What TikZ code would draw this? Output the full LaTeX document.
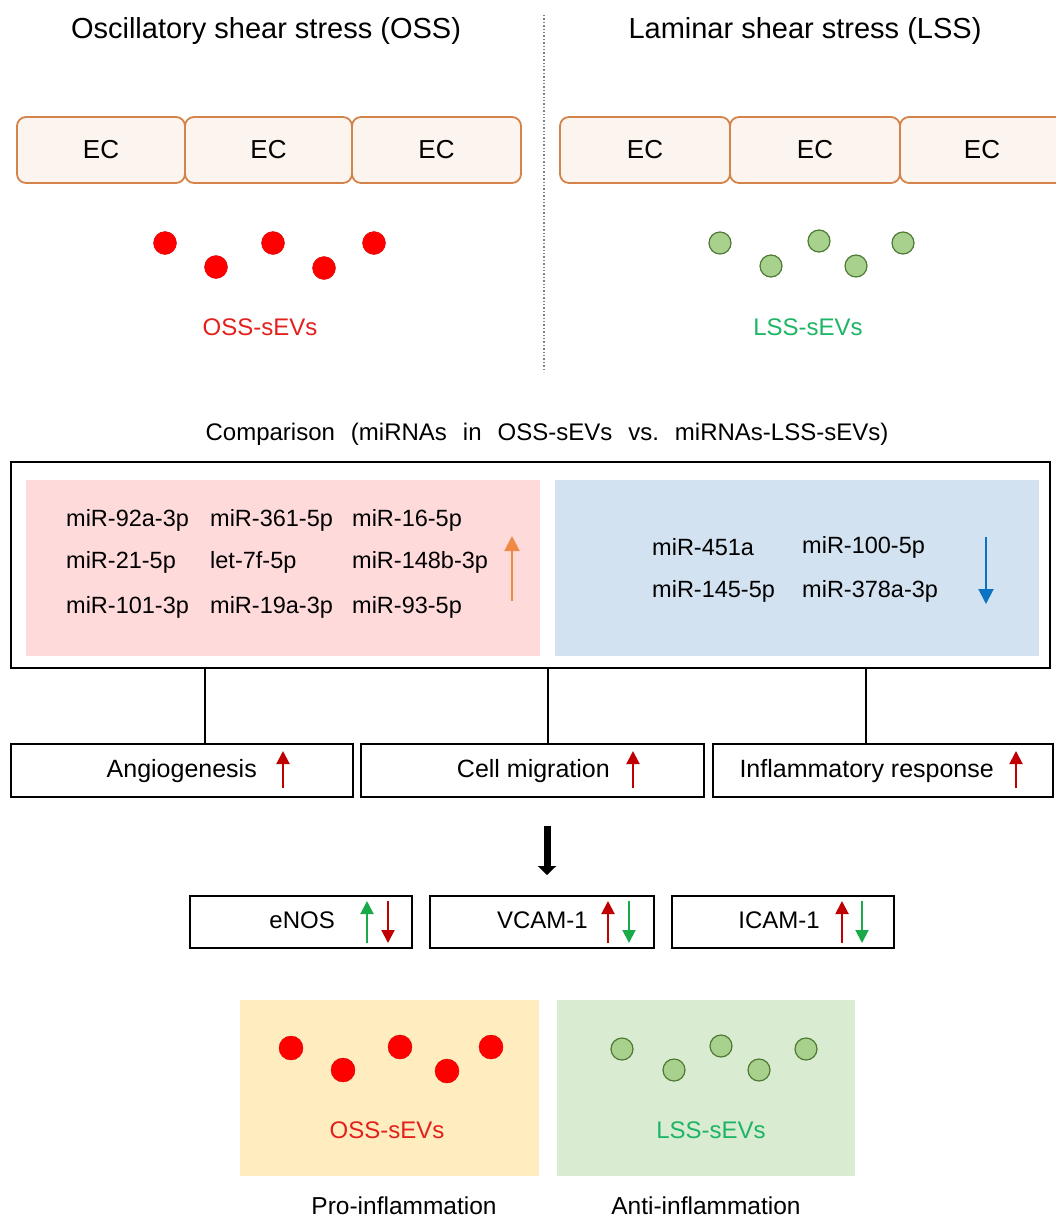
\documentclass[tikz,border=0pt]{standalone}
\usepackage{fontspec}
\setmainfont{Liberation Sans}
\usetikzlibrary{arrows.meta}

\definecolor{ecfill}{HTML}{FCF4EE}
\definecolor{ecline}{HTML}{D4834A}
\definecolor{ossred}{HTML}{FF0000}
\definecolor{osstext}{HTML}{E3201B}
\definecolor{lssfill}{HTML}{A9D18E}
\definecolor{lssline}{HTML}{4E7A35}
\definecolor{lsstext}{HTML}{1DB565}
\definecolor{pinkbg}{HTML}{FFDADA}
\definecolor{bluebg}{HTML}{D2E2F1}
\definecolor{uporange}{HTML}{EE8A44}
\definecolor{downblue}{HTML}{0B72C4}
\definecolor{darkred}{HTML}{C00000}
\definecolor{upgreen}{HTML}{1AAA4A}
\definecolor{yellowbg}{HTML}{FFEDC0}
\definecolor{greenbg}{HTML}{D9EBD0}

\newcommand\fsz[1]{\fontsize{#1}{#1}\selectfont}

\begin{document}
\begin{tikzpicture}[x=1pt,y=-1pt,
  ecbox/.style={draw=ecline, fill=ecfill, line width=1.8pt, rounded corners=9pt,
    minimum height=66pt, inner sep=0pt, font=\fsz{26}},
  ossdot/.style={circle, fill=ossred, draw=ossred!85!black, line width=0.4pt,
    minimum size=23pt, inner sep=0pt},
  lssdot/.style={circle, fill=lssfill, draw=lssline, line width=1.2pt,
    minimum size=22pt, inner sep=0pt},
  plainbox/.style={draw=black, line width=1.3pt, inner sep=0pt},
  txt/.style={inner sep=0pt, font=\fsz{24}},
  mir/.style={inner sep=0pt, anchor=west, font=\fsz{23.5}},
  tip/.style={-{Triangle[length=13pt,width=13pt]}, line width=2pt},
]
\useasboundingbox (0,0) rectangle (1056,1218);

% ---- headings and divider ----
\node[txt, font=\fsz{29}] (titleO) at (266,31) {Oscillatory shear stress (OSS)};
\node[txt, font=\fsz{29}] (titleL) at (805,31) {Laminar shear stress (LSS)};
\coordinate (divtop) at (544,15);
\coordinate (divbot) at (544,372);
\draw[gray, dotted, line width=1.4pt] (divtop) -- (divbot);

% ---- endothelial cell layers ----
\node[ecbox, minimum width=168pt] (ec1) at (101,150) {EC};
\node[ecbox, minimum width=167pt] (ec2) at (268.5,150) {EC};
\node[ecbox, minimum width=169pt] (ec3) at (436.5,150) {EC};
\node[ecbox, minimum width=170pt] (ec4) at (645,150) {EC};
\node[ecbox, minimum width=170pt] (ec5) at (815,150) {EC};
\node[ecbox, minimum width=170pt] (ec6) at (985,150) {};
\node[txt, font=\fsz{26}] (ec6t) at (982,150) {EC};

% ---- released vesicles ----
\node[ossdot] (o1) at (165,243) {};
\node[ossdot] (o2) at (216,267) {};
\node[ossdot] (o3) at (273,243) {};
\node[ossdot] (o4) at (324,268) {};
\node[ossdot] (o5) at (374,243) {};
\node[txt, text=osstext] (osslab) at (260,327) {OSS-sEVs};

\node[lssdot] (l1) at (720,243) {};
\node[lssdot] (l2) at (771,266) {};
\node[lssdot] (l3) at (819,241) {};
\node[lssdot] (l4) at (856,266) {};
\node[lssdot] (l5) at (903,243) {};
\node[txt, text=lsstext] (lsslab) at (808,327) {LSS-sEVs};

% ---- miRNA comparison ----
\node[txt, font=\fsz{24}] (cmp) at (547,434)
  {Comparison\hspace{16pt}(miRNAs\hspace{16pt}in\hspace{16pt}OSS-sEVs\hspace{16pt}vs.\hspace{16pt}miRNAs-LSS-sEVs)};
\node[plainbox, minimum width=1039pt, minimum height=206pt] (big) at (530.5,565) {};
\node[fill=pinkbg, inner sep=0pt, minimum width=514pt, minimum height=176pt] (pink) at (283,568) {};
\node[fill=bluebg, inner sep=0pt, minimum width=484pt, minimum height=176pt] (blue) at (797,568) {};

\node[mir] (m1) at (66,520) {miR-92a-3p};
\node[mir] (m2) at (210,520) {miR-361-5p};
\node[mir] (m3) at (352,520) {miR-16-5p};
\node[mir] (m4) at (66,562) {miR-21-5p};
\node[mir] (m5) at (210,562) {let-7f-5p};
\node[mir] (m6) at (352,562) {miR-148b-3p};
\node[mir] (m7) at (66,607) {miR-101-3p};
\node[mir] (m8) at (210,607) {miR-19a-3p};
\node[mir] (m9) at (352,607) {miR-93-5p};
\coordinate (upA) at (512,601);
\coordinate (upB) at (512,536);
\draw[tip, uporange, -{Triangle[length=15pt,width=15pt]}] (upA) -- (upB);

\node[mir] (n1) at (652,547) {miR-451a};
\node[mir] (n2) at (802,547) {miR-100-5p};
\node[mir] (n3) at (652,591) {miR-145-5p};
\node[mir] (n4) at (802,591) {miR-378a-3p};
\coordinate (dnA) at (986,537);
\coordinate (dnB) at (986,604);
\draw[tip, downblue, -{Triangle[length=15pt,width=15pt]}] (dnA) -- (dnB);

% ---- biological effects ----
\node[plainbox, minimum width=342pt, minimum height=53pt] (angio) at (182,770.5) {};
\node[plainbox, minimum width=343pt, minimum height=53pt] (migr) at (532.5,770.5) {};
\node[plainbox, minimum width=340pt, minimum height=53pt] (infl) at (883,770.5) {};
\coordinate (t1) at (205,744);
\coordinate (t2) at (548,744);
\coordinate (t3) at (866,744);
\draw[line width=1.3pt] (big.south -| t1) -- (t1);
\draw[line width=1.3pt] (big.south -| t2) -- (t2);
\draw[line width=1.3pt] (big.south -| t3) -- (t3);

\node[txt, font=\fsz{25}, anchor=east] (angiot) at (257,771) {Angiogenesis};
\node[txt, font=\fsz{25}, anchor=east] (migrt) at (610,771) {Cell migration};
\node[txt, font=\fsz{25}, anchor=east] (inflt) at (994,771) {Inflammatory response};
\draw[tip, darkred] (283,788) -- (283,751);
\draw[tip, darkred] (633,788) -- (633,751);
\draw[tip, darkred] (1016,788) -- (1016,751);

% ---- downstream markers ----
\coordinate (bkA) at (547,826);
\coordinate (bkB) at (547,875);
\draw[-{Triangle[length=9pt,width=18pt]}, line width=7pt] (bkA) -- (bkB);

\node[plainbox, minimum width=222pt, minimum height=52pt] (enos) at (301,922) {};
\node[plainbox, minimum width=224pt, minimum height=52pt] (vcam) at (542,922) {};
\node[plainbox, minimum width=222pt, minimum height=52pt] (icam) at (783,922) {};
\node[txt, anchor=east] (enost) at (335,920) {eNOS};
\node[txt, anchor=east] (vcamt) at (588,920) {VCAM-1};
\node[txt, anchor=east] (icamt) at (820,920) {ICAM-1};
\draw[tip, upgreen] (367,943) -- (367,901);
\draw[tip, darkred] (388,901) -- (388,943);
\draw[tip, darkred] (608,943) -- (608,901);
\draw[tip, upgreen] (629,901) -- (629,943);
\draw[tip, darkred] (842,943) -- (842,901);
\draw[tip, upgreen] (862,901) -- (862,943);

% ---- outcome panels ----
\node[fill=yellowbg, inner sep=0pt, minimum width=299pt, minimum height=176pt] (pro) at (389.5,1088) {};
\node[fill=greenbg, inner sep=0pt, minimum width=298pt, minimum height=176pt] (anti) at (706,1088) {};

\node[ossdot, minimum size=24pt] (p1) at (291,1048) {};
\node[ossdot, minimum size=24pt] (p2) at (343,1070) {};
\node[ossdot, minimum size=24pt] (p3) at (400,1047) {};
\node[ossdot, minimum size=24pt] (p4) at (447,1071) {};
\node[ossdot, minimum size=24pt] (p5) at (491,1047) {};
\node[txt, text=osstext] (prolab) at (387,1130) {OSS-sEVs};

\node[lssdot] (q1) at (622,1049) {};
\node[lssdot] (q2) at (674,1070) {};
\node[lssdot] (q3) at (721,1046) {};
\node[lssdot] (q4) at (759,1070) {};
\node[lssdot] (q5) at (806,1049) {};
\node[txt, text=lsstext] (antilab) at (711,1130) {LSS-sEVs};

\node[txt, font=\fsz{24.5}] (protxt) at (404,1206) {Pro-inflammation};
\node[txt, font=\fsz{24.5}] (antitxt) at (706,1206) {Anti-inflammation};
\end{tikzpicture}
\end{document}
